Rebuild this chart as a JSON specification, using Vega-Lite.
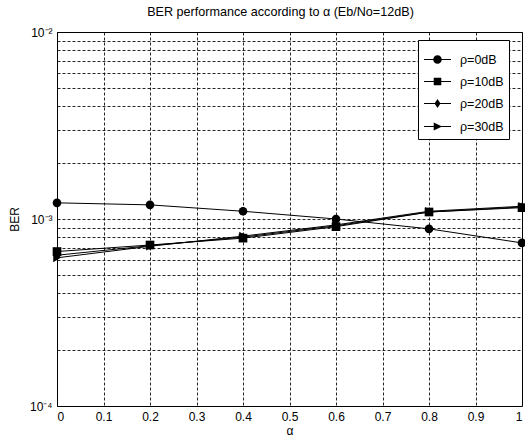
{
  "$schema": "https://vega.github.io/schema/vega-lite/v6.json",
  "autosize": "none",
  "padding": {"left": 57, "top": 32, "right": 3, "bottom": 33},
  "width": 465,
  "height": 374,
  "background": "white",
  "config": {
    "font": "Liberation Sans",
    "view": {"stroke": "black", "strokeWidth": 1},
    "axis": {
      "domain": false,
      "grid": true,
      "gridColor": "black",
      "gridDash": [3, 2],
      "gridOpacity": 0.85,
      "gridWidth": 1,
      "ticks": false,
      "labelColor": "black",
      "labelFont": "Liberation Sans",
      "labelFontSize": 12,
      "titleFont": "Liberation Sans",
      "titleFontSize": 12,
      "titleFontWeight": "normal",
      "titleColor": "black"
    }
  },
  "title": {
    "text": "BER performance according to α (Eb/No=12dB)",
    "font": "Liberation Sans",
    "fontSize": 12.6,
    "fontWeight": "normal",
    "color": "black",
    "offset": 7,
    "dx": -9,
    "anchor": "middle"
  },
  "data": {
    "values": [
      {"alpha": 0, "ber": 0.00122, "rho": "ρ=0dB"},
      {"alpha": 0.2, "ber": 0.00119, "rho": "ρ=0dB"},
      {"alpha": 0.4, "ber": 0.00110, "rho": "ρ=0dB"},
      {"alpha": 0.6, "ber": 0.00100, "rho": "ρ=0dB"},
      {"alpha": 0.8, "ber": 0.000886, "rho": "ρ=0dB"},
      {"alpha": 1, "ber": 0.000745, "rho": "ρ=0dB"},
      {"alpha": 0, "ber": 0.00067, "rho": "ρ=10dB"},
      {"alpha": 0.2, "ber": 0.000726, "rho": "ρ=10dB"},
      {"alpha": 0.4, "ber": 0.00079, "rho": "ρ=10dB"},
      {"alpha": 0.6, "ber": 0.00091, "rho": "ρ=10dB"},
      {"alpha": 0.8, "ber": 0.00109, "rho": "ρ=10dB"},
      {"alpha": 1, "ber": 0.00115, "rho": "ρ=10dB"},
      {"alpha": 0, "ber": 0.00064, "rho": "ρ=20dB"},
      {"alpha": 0.2, "ber": 0.00072, "rho": "ρ=20dB"},
      {"alpha": 0.4, "ber": 0.00080, "rho": "ρ=20dB"},
      {"alpha": 0.6, "ber": 0.00092, "rho": "ρ=20dB"},
      {"alpha": 0.8, "ber": 0.00109, "rho": "ρ=20dB"},
      {"alpha": 1, "ber": 0.00116, "rho": "ρ=20dB"},
      {"alpha": 0, "ber": 0.00062, "rho": "ρ=30dB"},
      {"alpha": 0.2, "ber": 0.000715, "rho": "ρ=30dB"},
      {"alpha": 0.4, "ber": 0.00081, "rho": "ρ=30dB"},
      {"alpha": 0.6, "ber": 0.00093, "rho": "ρ=30dB"},
      {"alpha": 0.8, "ber": 0.00110, "rho": "ρ=30dB"},
      {"alpha": 1, "ber": 0.00117, "rho": "ρ=30dB"}
    ]
  },
  "encoding": {
    "x": {
      "field": "alpha",
      "type": "quantitative",
      "scale": {"domain": [0, 1], "nice": false},
      "axis": {
        "title": "α",
        "values": [0, 0.1, 0.2, 0.3, 0.4, 0.5, 0.6, 0.7, 0.8, 0.9, 1],
        "labelExpr": "datum.value === 0 ? '0' : datum.value === 1 ? '1' : format(datum.value, '.1f')",
        "labelPadding": 5,
        "titlePadding": 3
      }
    },
    "y": {
      "field": "ber",
      "type": "quantitative",
      "scale": {"type": "log", "domain": [0.0001, 0.01], "nice": false},
      "axis": {
        "title": "BER",
        "values": [0.0001, 0.0002, 0.0003, 0.0004, 0.0005, 0.0006, 0.0007, 0.0008, 0.0009, 0.001, 0.002, 0.003, 0.004, 0.005, 0.006, 0.007, 0.008, 0.009, 0.01],
        "labelExpr": "datum.value === 0.0001 ? '10⁻⁴' : datum.value === 0.001 ? '10⁻³' : datum.value === 0.01 ? '10⁻²' : ''",
        "labelPadding": 5,
        "titlePadding": 8
      }
    }
  },
  "layer": [
    {
      "mark": {"type": "line", "color": "black", "strokeWidth": 1},
      "encoding": {"detail": {"field": "rho", "type": "nominal"}}
    },
    {
      "mark": {"type": "point", "filled": true, "color": "black", "opacity": 1, "size": 75},
      "encoding": {
        "shape": {
          "field": "rho",
          "type": "nominal",
          "scale": {"domain": ["ρ=0dB", "ρ=10dB", "ρ=20dB", "ρ=30dB"], "range": ["circle", "square", "diamond", "triangle-right"]},
          "legend": null
        }
      }
    },
    {
      "mark": {"type": "point", "filled": true, "color": "black", "opacity": 0},
      "encoding": {
        "shape": {
          "field": "rho",
          "type": "nominal",
          "scale": {
            "domain": ["ρ=0dB", "ρ=10dB", "ρ=20dB", "ρ=30dB"],
            "range": [
              "M-1,-0.04H1V0.04H-1ZM0.32,0A0.32,0.32 0 1 1 -0.32,0A0.32,0.32 0 1 1 0.32,0Z",
              "M-1,-0.04H1V0.04H-1ZM-0.28,-0.28H0.28V0.28H-0.28Z",
              "M-1,-0.04H1V0.04H-1ZM0,-0.34L0.22,0L0,0.34L-0.22,0Z",
              "M-1,-0.04H1V0.04H-1ZM-0.28,-0.3L0.34,0L-0.28,0.3Z"
            ]
          },
          "legend": {
            "title": null,
            "orient": "none",
            "legendX": 361,
            "legendY": 8,
            "fillColor": "white",
            "strokeColor": "black",
            "padding": 5,
            "symbolSize": 729,
            "labelFont": "Liberation Sans",
            "labelFontSize": 12.5,
            "labelColor": "black",
            "labelOffset": 8,
            "labelExpr": "datum.label + '   '",
            "rowPadding": -11,
            "encode": {
              "symbols": {
                "update": {
                  "fill": {"value": "black"},
                  "opacity": {"value": 1},
                  "fillOpacity": {"value": 1}
                }
              }
            }
          }
        }
      }
    }
  ],
  "resolve": {"scale": {"shape": "independent"}, "legend": {"shape": "independent"}}
}
